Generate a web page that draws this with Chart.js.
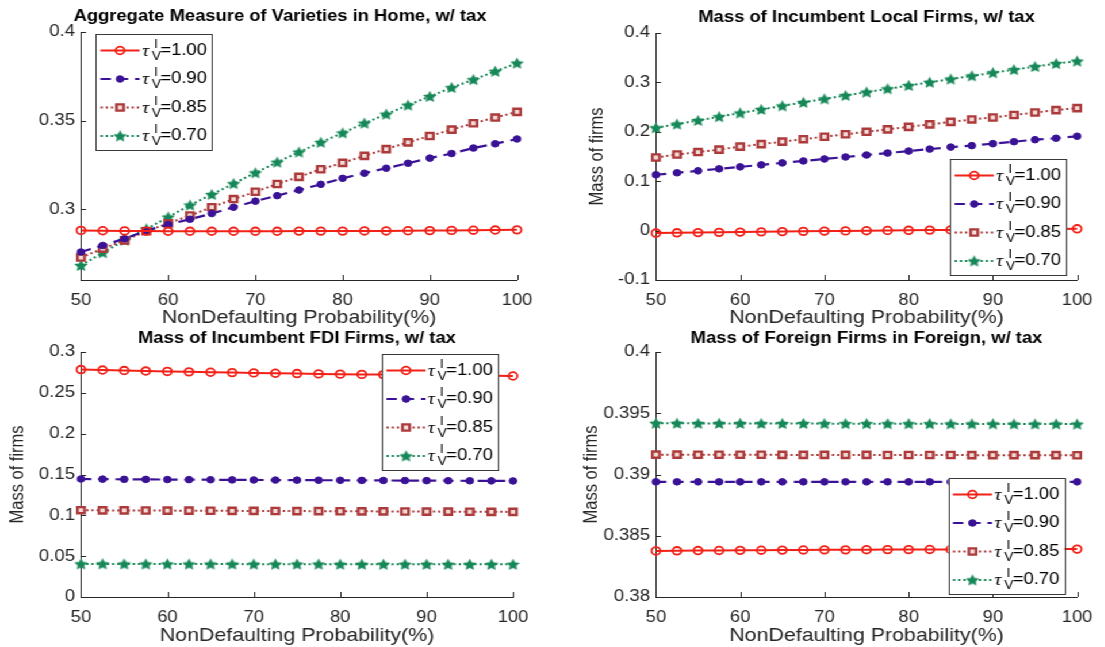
<!DOCTYPE html>
<html>
<head>
<meta charset="utf-8">
<script src="https://cdn.jsdelivr.net/npm/chart.js@4.4.1/dist/chart.umd.min.js"></script>
<style>
  html, body { margin: 0; padding: 0; background: #fff; overflow: hidden; }
  #stage { position: absolute; left: 0; top: 0; width: 961px; height: 647px;
           transform: scaleX(1.15); transform-origin: 0 0; }
  .panel { position: absolute; }
  .panel canvas { display: block; }
</style>
</head>
<body>
<div id="stage">
  <div class="panel" style="left:0;top:0;width:480px;height:329px"><canvas id="c1"></canvas></div>
  <div class="panel" style="left:480px;top:0;width:481px;height:329px"><canvas id="c2"></canvas></div>
  <div class="panel" style="left:0;top:329px;width:480px;height:318px"><canvas id="c3"></canvas></div>
  <div class="panel" style="left:480px;top:329px;width:481px;height:318px"><canvas id="c4"></canvas></div>
</div>
<script>
// Non-defaulting probability grid (%)
const probability = [50, 52.5, 55, 57.5, 60, 62.5, 65, 67.5, 70, 72.5, 75, 77.5, 80, 82.5, 85, 87.5, 90, 92.5, 95, 97.5, 100];
const xTicks = [50, 60, 70, 80, 90, 100];
const tauLabels = ['1.00', '0.90', '0.85', '0.70'];

// Aggregate measure of varieties in Home
const homeVar100 = [0.2880, 0.2878, 0.2877, 0.2876, 0.2875, 0.2875, 0.2875, 0.2875, 0.2875, 0.2875, 0.2876, 0.2876, 0.2876, 0.2877, 0.2877, 0.2878, 0.2879, 0.2880, 0.2881, 0.2882, 0.2883];
const homeVar090 = [0.2758, 0.2795, 0.2833, 0.2879, 0.2913, 0.2943, 0.2975, 0.3011, 0.3045, 0.3076, 0.3108, 0.3140, 0.3174, 0.3203, 0.3231, 0.3259, 0.3288, 0.3314, 0.3345, 0.3369, 0.3396];
const homeVar085 = [0.2727, 0.2777, 0.2824, 0.2875, 0.2920, 0.2964, 0.3011, 0.3057, 0.3098, 0.3142, 0.3182, 0.3225, 0.3261, 0.3301, 0.3339, 0.3377, 0.3413, 0.3449, 0.3485, 0.3517, 0.3549];
const homeVar070 = [0.2682, 0.2754, 0.2824, 0.2888, 0.2955, 0.3023, 0.3083, 0.3144, 0.3205, 0.3265, 0.3322, 0.3377, 0.3430, 0.3485, 0.3536, 0.3587, 0.3636, 0.3686, 0.3731, 0.3778, 0.3824];
const homeTicks = [0.3, 0.35, 0.4];

// Mass of incumbent local firms
const localFirms100 = [-0.005, -0.0045, -0.004, -0.0035, -0.003, -0.0025, -0.002, -0.0015, -0.001, -0.0006, -0.0002, 0.0002, 0.0006, 0.001, 0.0014, 0.0018, 0.0022, 0.0026, 0.003, 0.0033, 0.0036];
const localFirms090 = [0.113, 0.117, 0.121, 0.125, 0.129, 0.133, 0.137, 0.141, 0.145, 0.149, 0.153, 0.157, 0.161, 0.165, 0.169, 0.172, 0.176, 0.180, 0.184, 0.187, 0.191];
const localFirms085 = [0.148, 0.154, 0.159, 0.164, 0.170, 0.175, 0.180, 0.185, 0.190, 0.195, 0.200, 0.205, 0.210, 0.215, 0.220, 0.225, 0.229, 0.234, 0.239, 0.244, 0.248];
const localFirms070 = [0.208, 0.2155, 0.223, 0.2305, 0.238, 0.2452, 0.2524, 0.2595, 0.2665, 0.2734, 0.2802, 0.2869, 0.2936, 0.3002, 0.3067, 0.3131, 0.3195, 0.3258, 0.3320, 0.3381, 0.3430];
const localTicks = [-0.1, 0, 0.1, 0.2, 0.3, 0.4];

// Mass of incumbent FDI firms
const fdiFirms100 = [0.2785, 0.2779, 0.2773, 0.2767, 0.2762, 0.2757, 0.2752, 0.2748, 0.2744, 0.2740, 0.2736, 0.2732, 0.2729, 0.2726, 0.2723, 0.2720, 0.2717, 0.2714, 0.2711, 0.2708, 0.2706];
const fdiFirms090 = [0.1445, 0.1443, 0.1441, 0.1440, 0.1438, 0.1437, 0.1436, 0.1434, 0.1433, 0.1432, 0.1431, 0.1430, 0.1429, 0.1428, 0.1427, 0.1426, 0.1425, 0.1424, 0.1423, 0.1422, 0.1421];
const fdiFirms085 = [0.1063, 0.1061, 0.1060, 0.1059, 0.1058, 0.1057, 0.1056, 0.1055, 0.1054, 0.1053, 0.1052, 0.1051, 0.1050, 0.1049, 0.1048, 0.1047, 0.1046, 0.1045, 0.1044, 0.1043, 0.1042];
const fdiFirms070 = [0.0405, 0.0405, 0.0404, 0.0404, 0.0404, 0.0403, 0.0403, 0.0403, 0.0402, 0.0402, 0.0402, 0.0402, 0.0401, 0.0401, 0.0401, 0.0401, 0.0400, 0.0400, 0.0400, 0.0400, 0.0400];
const fdiTicks = [0, 0.05, 0.1, 0.15, 0.2, 0.25, 0.3];

// Mass of foreign firms in Foreign
const foreignFirms100 = [0.38376, 0.38377, 0.38379, 0.38380, 0.38381, 0.38382, 0.38383, 0.38384, 0.38385, 0.38385, 0.38386, 0.38387, 0.38387, 0.38388, 0.38388, 0.38389, 0.38389, 0.38390, 0.38390, 0.38391, 0.38391];
const foreignFirms090 = [0.38940, 0.38940, 0.38940, 0.38940, 0.38940, 0.38940, 0.38940, 0.38940, 0.38940, 0.38940, 0.38940, 0.38940, 0.38940, 0.38940, 0.38940, 0.38940, 0.38940, 0.38940, 0.38940, 0.38940, 0.38940];
const foreignFirms085 = [0.39162, 0.39162, 0.39161, 0.39161, 0.39161, 0.39161, 0.39160, 0.39160, 0.39160, 0.39160, 0.39160, 0.39159, 0.39159, 0.39159, 0.39159, 0.39158, 0.39158, 0.39158, 0.39158, 0.39158, 0.39157];
const foreignFirms070 = [0.39418, 0.39418, 0.39417, 0.39417, 0.39417, 0.39416, 0.39416, 0.39416, 0.39415, 0.39415, 0.39415, 0.39414, 0.39414, 0.39414, 0.39413, 0.39413, 0.39413, 0.39412, 0.39412, 0.39412, 0.39411];
const foreignTicks = [0.38, 0.385, 0.39, 0.395, 0.4];

const FONT = '"Liberation Sans", Arial, Helvetica, sans-serif';
const AXIS_COLOR = '#262626';

// Filled five-point star marker
function makeStar(color, rOuter) {
  const size = Math.ceil(rOuter * 2 + 2);
  const c = document.createElement('canvas');
  c.width = size; c.height = size;
  const g = c.getContext('2d');
  const cx = size / 2, cy = size / 2 + 0.5, rInner = rOuter * 0.48;
  g.beginPath();
  for (let i = 0; i < 10; i++) {
    const r = i % 2 === 0 ? rOuter : rInner;
    const a = -Math.PI / 2 + i * Math.PI / 5;
    const px = cx + r * Math.cos(a), py = cy + r * Math.sin(a);
    if (i === 0) g.moveTo(px, py); else g.lineTo(px, py);
  }
  g.closePath();
  g.fillStyle = color;
  g.fill();
  return c;
}

// Line / marker styles, one per tax level
const seriesStyles = [
  { color: 'rgb(242,32,22)', dash: [], width: 2, marker: 'circle', radius: 3.8, fill: 'rgba(0,0,0,0)', mWidth: 1.8 },
  { color: 'rgb(58,18,150)', dash: [9, 6], width: 2.2, marker: 'circle', radius: 3.3, fill: 'rgb(58,18,150)', mWidth: 1 },
  { color: 'rgb(172,58,58)', dash: [2, 2.5], width: 2, marker: 'rect', radius: 4.4, fill: '#f2dcdc', mWidth: 2.4 },
  { color: 'rgb(22,136,88)', dash: [2, 2.5], width: 2, marker: 'star', radius: 6.2, fill: 'rgb(22,136,88)', mWidth: 1 }
];
const starImage = makeStar(seriesStyles[3].color, 6.2);

function buildDatasets(seriesList) {
  return seriesList.map((vals, i) => {
    const st = seriesStyles[i];
    return {
      label: tauLabels[i],
      data: probability.map((p, k) => ({ x: p, y: vals[k] })),
      borderColor: st.color,
      borderWidth: st.width,
      borderDash: st.dash,
      pointStyle: st.marker === 'star' ? starImage : st.marker,
      pointRadius: st.radius,
      pointBorderWidth: st.mWidth,
      pointBorderColor: st.color,
      pointBackgroundColor: st.fill,
      tension: 0,
      clip: false
    };
  });
}

// Inward-pointing tick marks on the left and bottom axes
const inwardTicks = {
  id: 'inwardTicks',
  beforeDatasetsDraw(chart) {
    const { ctx, chartArea: a, scales: { x, y } } = chart;
    ctx.save();
    ctx.strokeStyle = AXIS_COLOR;
    ctx.lineWidth = 1;
    ctx.beginPath();
    x.ticks.forEach(t => {
      const px = Math.round(x.getPixelForValue(t.value)) + 0.5;
      ctx.moveTo(px, a.bottom); ctx.lineTo(px, a.bottom - 5);
    });
    y.ticks.forEach(t => {
      const py = Math.round(y.getPixelForValue(t.value)) + 0.5;
      ctx.moveTo(a.left, py); ctx.lineTo(a.left + 4.4, py);
    });
    ctx.stroke();
    ctx.restore();
  }
};

// Bold panel title above the plotting area
const panelTitle = {
  id: 'panelTitle',
  afterDraw(chart, args, opts) {
    const { ctx, chartArea: a } = chart;
    ctx.save();
    ctx.font = 'bold 16px ' + FONT;
    ctx.fillStyle = '#000';
    ctx.textAlign = 'center';
    ctx.textBaseline = 'middle';
    ctx.fillText(opts.text, (a.left + a.right) / 2 + (opts.shift || 0), a.top - opts.gap);
    ctx.restore();
  }
};

function drawMarker(ctx, st, x, y) {
  if (st.marker === 'star') {
    ctx.drawImage(starImage, x - starImage.width / 2, y - starImage.height / 2);
    return;
  }
  ctx.save();
  ctx.setLineDash([]);
  ctx.lineWidth = st.mWidth;
  ctx.strokeStyle = st.color;
  ctx.fillStyle = st.fill;
  ctx.beginPath();
  if (st.marker === 'circle') {
    ctx.arc(x, y, st.radius, 0, Math.PI * 2);
  } else {
    const h = st.radius * Math.SQRT1_2;
    ctx.rect(x - h, y - h, 2 * h, 2 * h);
  }
  ctx.fill();
  ctx.stroke();
  ctx.restore();
}

// Boxed legend with line samples and tau labels
const boxLegend = {
  id: 'boxLegend',
  afterDraw(chart, args, opts) {
    const { ctx, chartArea: a } = chart;
    const w = 101, h = 116;
    const left = opts.corner[1] === 'w' ? a.left + opts.dx : a.right - opts.dx - w;
    const top = opts.corner[0] === 'n' ? a.top + opts.dy : a.bottom - opts.dy - h;
    ctx.save();
    ctx.fillStyle = '#fff';
    ctx.fillRect(left, top, w, h);
    ctx.strokeStyle = '#3a3a3a';
    ctx.lineWidth = 1;
    ctx.strokeRect(Math.round(left) + 0.5, Math.round(top) + 0.5, w, h);
    tauLabels.forEach((lab, i) => {
      const st = seriesStyles[i];
      const cy = top + 16.5 + 28.5 * i;
      ctx.save();
      ctx.strokeStyle = st.color;
      ctx.lineWidth = st.width;
      ctx.setLineDash(st.dash);
      ctx.beginPath();
      ctx.moveTo(left + 4, cy); ctx.lineTo(left + 38, cy);
      ctx.stroke();
      ctx.restore();
      drawMarker(ctx, st, left + 21, cy);
      const tx = left + 40;
      ctx.fillStyle = '#000';
      ctx.textBaseline = 'middle';
      ctx.textAlign = 'left';
      ctx.font = 'italic 17px "Liberation Serif", "DejaVu Serif", serif';
      ctx.fillText('τ', tx, cy + 1);
      ctx.font = '12px ' + FONT;
      ctx.fillText('I', tx + 10.5, cy - 6);
      ctx.fillText('V', tx + 8.5, cy + 6);
      ctx.font = '16px ' + FONT;
      ctx.fillText('=' + lab, tx + 16, cy);
    });
    ctx.restore();
  }
};

const fmt = v => String(+(+v).toFixed(4));

function makeChart(id, cfg) {
  new Chart(document.getElementById(id), {
    type: 'line',
    data: { datasets: buildDatasets(cfg.series) },
    plugins: [inwardTicks, panelTitle, boxLegend],
    options: {
      responsive: true,
      maintainAspectRatio: false,
      animation: false,
      events: [],
      layout: { padding: cfg.padding },
      plugins: {
        legend: { display: false },
        tooltip: { enabled: false },
        title: { display: false },
        panelTitle: { text: cfg.title, gap: cfg.titleGap, shift: cfg.titleShift },
        boxLegend: cfg.legend
      },
      scales: {
        x: {
          type: 'linear', min: 50, max: 100,
          grid: { display: false, drawTicks: false },
          border: { display: true, color: AXIS_COLOR, width: 1 },
          afterBuildTicks: s => { s.ticks = xTicks.map(v => ({ value: v })); },
          afterFit: s => { s.height = cfg.xAxisHeight; },
          ticks: { color: AXIS_COLOR, font: { family: FONT, size: 16 }, padding: 11, maxRotation: 0, callback: fmt },
          title: { display: true, text: 'NonDefaulting Probability(%)', color: AXIS_COLOR,
                   font: { family: FONT, size: 18.6 }, padding: { top: 0, bottom: 0 } }
        },
        y: {
          type: 'linear', min: cfg.yMin, max: cfg.yMax,
          grid: { display: false, drawTicks: false },
          border: { display: true, color: AXIS_COLOR, width: 1 },
          afterBuildTicks: s => { s.ticks = cfg.yTicks.map(v => ({ value: v })); },
          afterFit: s => { s.width = cfg.yAxisWidth; },
          ticks: { color: AXIS_COLOR, font: { family: FONT, size: 16.3 }, padding: 5, callback: fmt },
          title: { display: !!cfg.yTitle, text: cfg.yTitle || '', color: AXIS_COLOR,
                   font: { family: FONT, size: 16.5 }, padding: { top: cfg.yTitlePad || 0, bottom: 0 } }
        }
      }
    }
  });
}

makeChart('c1', {
  title: 'Aggregate Measure of Varieties in Home, w/ tax', titleGap: 15, titleShift: -16.5,
  series: [homeVar100, homeVar090, homeVar085, homeVar070],
  yMin: 0.26, yMax: 0.4, yTicks: homeTicks, yTitle: null,
  padding: { left: 0, right: 30.4, top: 32, bottom: 0 },
  yAxisWidth: 70.4, xAxisHeight: 49,
  legend: { corner: 'nw', dx: 13, dy: 2 }
});
makeChart('c2', {
  title: 'Mass of Incumbent Local Firms, w/ tax', titleGap: 15,
  series: [localFirms100, localFirms090, localFirms085, localFirms070],
  yMin: -0.1, yMax: 0.4, yTicks: localTicks, yTitle: 'Mass of firms', yTitlePad: 29.2,
  padding: { left: 0, right: 17.5, top: 33, bottom: 0 },
  yAxisWidth: 90.4, xAxisHeight: 49,
  legend: { corner: 'se', dx: 9.5, dy: 5 }
});
makeChart('c3', {
  title: 'Mass of Incumbent FDI Firms, w/ tax', titleGap: 13,
  series: [fdiFirms100, fdiFirms090, fdiFirms085, fdiFirms070],
  yMin: 0, yMax: 0.3, yTicks: fdiTicks, yTitle: 'Mass of firms', yTitlePad: 5.8,
  padding: { left: 0, right: 33.9, top: 23, bottom: 0 },
  yAxisWidth: 70.4, xAxisHeight: 50,
  legend: { corner: 'ne', dx: 13, dy: 2 }
});
makeChart('c4', {
  title: 'Mass of Foreign Firms in Foreign, w/ tax', titleGap: 13,
  series: [foreignFirms100, foreignFirms090, foreignFirms085, foreignFirms070],
  yMin: 0.38, yMax: 0.4, yTicks: foreignTicks, yTitle: 'Mass of firms', yTitlePad: 24.9,
  padding: { left: 0, right: 17.5, top: 23, bottom: 0 },
  yAxisWidth: 90.4, xAxisHeight: 50,
  legend: { corner: 'se', dx: 11, dy: 3 }
});
</script>
</body>
</html>
